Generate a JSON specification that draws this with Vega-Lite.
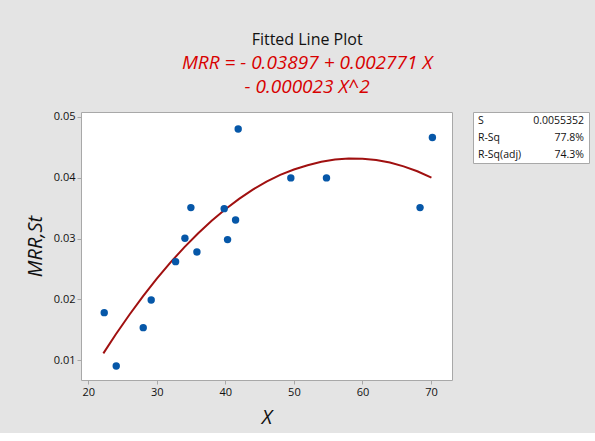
{
  "$schema": "https://vega.github.io/schema/vega-lite/v6.json",
  "background": "#e4e4e4",
  "padding": {"left": 24, "top": 32, "right": 5, "bottom": 5},
  "title": {
    "text": "Fitted Line Plot",
    "subtitle": ["MRR = - 0.03897 + 0.002771 X", "- 0.000023 X^2"],
    "anchor": "middle",
    "font": "Open Sans",
    "fontSize": 16,
    "fontWeight": 500,
    "color": "#111111",
    "subtitleFont": "Open Sans",
    "subtitleFontSize": 19,
    "subtitleFontStyle": "italic",
    "subtitleColor": "#d80000",
    "subtitleLineHeight": 24,
    "subtitlePadding": 6,
    "offset": 13
  },
  "config": {
    "font": "Open Sans",
    "view": {"stroke": "#a8a8a8", "fill": "white"},
    "axis": {
      "grid": false,
      "domain": false,
      "tickColor": "#a8a8a8",
      "tickSize": 4,
      "labelFontSize": 11,
      "labelColor": "#111111",
      "labelFont": "Open Sans",
      "titleFont": "Open Sans",
      "titleFontWeight": "normal",
      "titleFontStyle": "italic",
      "titleFontSize": 20,
      "titleColor": "#111111"
    }
  },
  "spacing": 19,
  "hconcat": [
    {
      "width": 371,
      "height": 268,
      "layer": [
        {
          "data": {"values": [
            {"X": 22.2, "MRR": 0.01114},
            {"X": 24, "MRR": 0.01423},
            {"X": 26, "MRR": 0.01748},
            {"X": 28, "MRR": 0.02054},
            {"X": 30, "MRR": 0.02341},
            {"X": 32, "MRR": 0.02608},
            {"X": 34, "MRR": 0.02856},
            {"X": 36, "MRR": 0.03084},
            {"X": 38, "MRR": 0.03293},
            {"X": 40, "MRR": 0.03483},
            {"X": 42, "MRR": 0.03653},
            {"X": 44, "MRR": 0.03804},
            {"X": 46, "MRR": 0.03936},
            {"X": 48, "MRR": 0.04048},
            {"X": 50, "MRR": 0.04135},
            {"X": 52, "MRR": 0.04205},
            {"X": 54, "MRR": 0.04262},
            {"X": 56, "MRR": 0.04300},
            {"X": 58, "MRR": 0.04317},
            {"X": 60, "MRR": 0.04313},
            {"X": 62, "MRR": 0.04292},
            {"X": 64, "MRR": 0.04249},
            {"X": 66, "MRR": 0.04187},
            {"X": 68, "MRR": 0.04106},
            {"X": 70.06, "MRR": 0.04002}
          ]},
          "mark": {"type": "line", "color": "#a01010", "strokeWidth": 2},
          "encoding": {
            "x": {"field": "X", "type": "quantitative", "scale": {"domain": [18.94, 73.06], "nice": false, "zero": false},
                  "axis": {"values": [20, 30, 40, 50, 60, 70], "format": "d", "title": "X", "titlePadding": 10}},
            "y": {"field": "MRR", "type": "quantitative", "scale": {"domain": [0.00676, 0.0508], "nice": false, "zero": false},
                  "axis": {"values": [0.01, 0.02, 0.03, 0.04, 0.05], "format": ".2f", "title": "MRR,St", "titlePadding": 8}}
          }
        },
        {
          "data": {"values": [
            {"X": 22.33, "MRR": 0.01783},
            {"X": 24.08, "MRR": 0.00906},
            {"X": 28.02, "MRR": 0.01536},
            {"X": 29.18, "MRR": 0.01991},
            {"X": 32.74, "MRR": 0.02621},
            {"X": 34.1, "MRR": 0.03006},
            {"X": 34.97, "MRR": 0.03509},
            {"X": 35.85, "MRR": 0.0278},
            {"X": 39.83, "MRR": 0.03492},
            {"X": 40.32, "MRR": 0.02983},
            {"X": 41.49, "MRR": 0.03306},
            {"X": 41.87, "MRR": 0.04802},
            {"X": 49.55, "MRR": 0.03997},
            {"X": 54.75, "MRR": 0.03997},
            {"X": 68.4, "MRR": 0.03509},
            {"X": 70.2, "MRR": 0.0466}
          ]},
          "mark": {"type": "point", "filled": true, "opacity": 1, "color": "#0657a8", "size": 55},
          "encoding": {
            "x": {"field": "X", "type": "quantitative"},
            "y": {"field": "MRR", "type": "quantitative"}
          }
        }
      ]
    },
    {
      "width": 116,
      "height": 51,
      "data": {"values": [
        {"stat": "S", "value": "0.0055352"},
        {"stat": "R-Sq", "value": "77.8%"},
        {"stat": "R-Sq(adj)", "value": "74.3%"}
      ]},
      "encoding": {
        "y": {"field": "stat", "type": "ordinal", "sort": null, "axis": null, "scale": {"paddingOuter": 0}}
      },
      "layer": [
        {
          "mark": {"type": "text", "align": "left", "dx": 5, "fontSize": 10.5, "color": "#111111", "font": "Open Sans"},
          "encoding": {
            "x": {"datum": 0, "type": "quantitative", "scale": {"domain": [0, 1]}, "axis": null},
            "text": {"field": "stat"}
          }
        },
        {
          "mark": {"type": "text", "align": "right", "dx": -5, "fontSize": 10.5, "color": "#111111", "font": "Open Sans"},
          "encoding": {
            "x": {"datum": 1, "type": "quantitative"},
            "text": {"field": "value"}
          }
        }
      ]
    }
  ]
}
